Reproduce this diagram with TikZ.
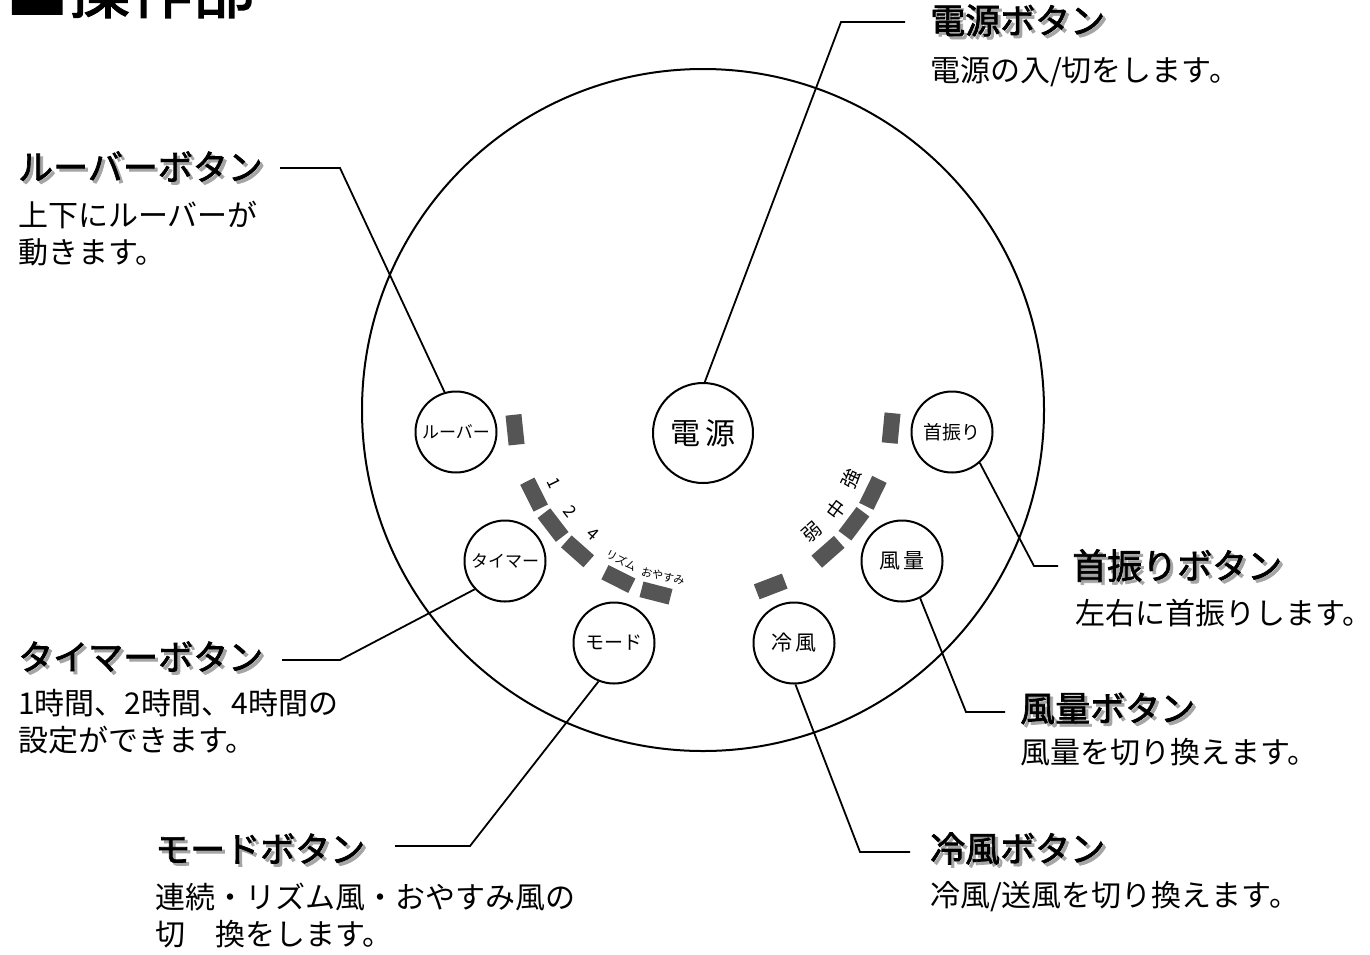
\documentclass[tikz,border=0pt]{standalone}
\usepackage{fontspec}
\newfontfamily\jp{Noto Sans CJK JP}
\newfontfamily\jpb[FakeBold=2]{Noto Sans CJK JP}
\usetikzlibrary{calc}
\definecolor{barcol}{RGB}{85,85,85}
\definecolor{shadecol}{RGB}{165,165,165}
\newcommand{\shadowed}[1]{\makebox[0pt][l]{\hspace{3pt}\raisebox{-3pt}{\textcolor{shadecol}{#1}}}#1}
\tikzset{
  btn/.style={circle, draw, line width=2pt, minimum size=81pt, inner sep=0pt, font=\jp\fontsize{17}{17}\selectfont},
  lead/.style={line width=1.8pt},
  ind/.style={fill=barcol, minimum width=30pt, minimum height=16pt, inner sep=0pt},
  arclbl/.style={inner sep=0pt, font=\jp\fontsize{14}{14}\selectfont},
  head/.style={anchor=west, inner sep=0pt, font=\jpb\fontsize{35}{35}\selectfont},
  desc/.style={anchor=west, inner sep=0pt, align=left, font=\jp\fontsize{30}{37}\selectfont},
}
\begin{document}
\begin{tikzpicture}[x=1pt,y=-1pt]
\useasboundingbox (0,0) rectangle (1370,954);
% title (cut off at top)
\node[anchor=base west, inner sep=0pt, font=\jpb\fontsize{62}{62}\selectfont] (title) at (6,13) {■操作部};
% body
\coordinate (C) at (703,410);
\node[circle, draw, line width=2pt, minimum size=682pt, inner sep=0pt] (body) at (C) {};
% buttons
\node[btn] (lvr) at (456,432) {ルーバー};
\node[btn, minimum size=100pt, font=\jp\fontsize{30}{30}\selectfont] (pwr) at (703,433) {電\,源};
\node[btn, font=\jp\fontsize{19}{19}\selectfont] (swg) at (952,432) {首振り};
\node[btn] (tmr) at (505,561) {タイマー};
\node[btn, font=\jp\fontsize{19}{19}\selectfont] (mode) at (614,643) {モード};
\node[btn, font=\jp\fontsize{21}{21}\selectfont] (cool) at (794,643) {冷\,風};
\node[btn, font=\jp\fontsize{21}{21}\selectfont] (fan) at (902,561) {風\,量};
% indicator bars on arc
\foreach \a [count=\i] in {174,153.4,142.5,131.6,116.6,104.4,69,48.6,37,26,5.5}
  \node[ind, rotate=90-\a] (bar\i) at ($(C)+(\a:189)$) {};
% arc labels
\foreach \a/\t/\r/\s [count=\i] in {154/1/166/17, 142.5/2/167/17, 131.6/4/166/17, 118.5/リズム/171/11, 103.5/おやすみ/171/11, 24.8/強/163/19, 36.7/中/166/19, 48.3/弱/164/19}
  \node[arclbl, font=\jp\fontsize{\s}{\s}\selectfont, rotate=90-\a] (lbl\i) at ($(C)+(\a:\r)$) {\t};
% headings with shadow and descriptions
\node[head] (hpwr) at (930,22) {\shadowed{電源ボタン}};
\node[desc] (dpwr) at (930,72) {電源の入/切をします。};
\node[head] (hlvr) at (18,168) {\shadowed{ルーバーボタン}};
\node[desc] (dlvr) at (18,234) {上下にルーバーが\\動きます。};
\node[head] (hswg) at (1072,567) {\shadowed{首振りボタン}};
\node[desc] (dswg) at (1075,613) {左右に首振りします。};
\node[head] (htmr) at (18,658) {\shadowed{タイマーボタン}};
\node[desc] (dtmr) at (18,722) {1時間、2時間、4時間の\\設定ができます。};
\node[head] (hfan) at (1020,710) {\shadowed{風量ボタン}};
\node[desc] (dfan) at (1020,752) {風量を切り換えます。};
\node[head] (hcool) at (930,850) {\shadowed{冷風ボタン}};
\node[desc] (dcool) at (930,897) {冷風/送風を切り換えます。};
\node[head] (hmode) at (155,850) {\shadowed{モードボタン}};
\node[desc] (dmode) at (155,916) {連続・リズム風・おやすみ風の\\切　換をします。};
% leader lines
\coordinate (kpwr) at (841,22);   \coordinate (epwr) at (905,22);
\coordinate (klvr) at (340,168);  \coordinate (elvr) at (280,168);
\coordinate (kswg) at (1034,566); \coordinate (eswg) at (1058,566);
\coordinate (ktmr) at (340,660);  \coordinate (etmr) at (282,660);
\coordinate (kfan) at (966,712);  \coordinate (efan) at (1005,712);
\coordinate (kcool) at (860,852); \coordinate (ecool) at (910,852);
\coordinate (kmode) at (470,846); \coordinate (emode) at (395,846);
\draw[lead] (pwr.88) -- (kpwr) -- (epwr);
\draw[lead] (lvr.106) -- (klvr) -- (elvr);
\draw[lead] (swg.-48) -- (kswg) -- (eswg);
\draw[lead] (tmr.223) -- (ktmr) -- (etmr);
\draw[lead] (fan.-64) -- (kfan) -- (efan);
\draw[lead] (cool.-88) -- (kcool) -- (ecool);
\draw[lead] (mode.-112) -- (kmode) -- (emode);
\end{tikzpicture}
\end{document}
